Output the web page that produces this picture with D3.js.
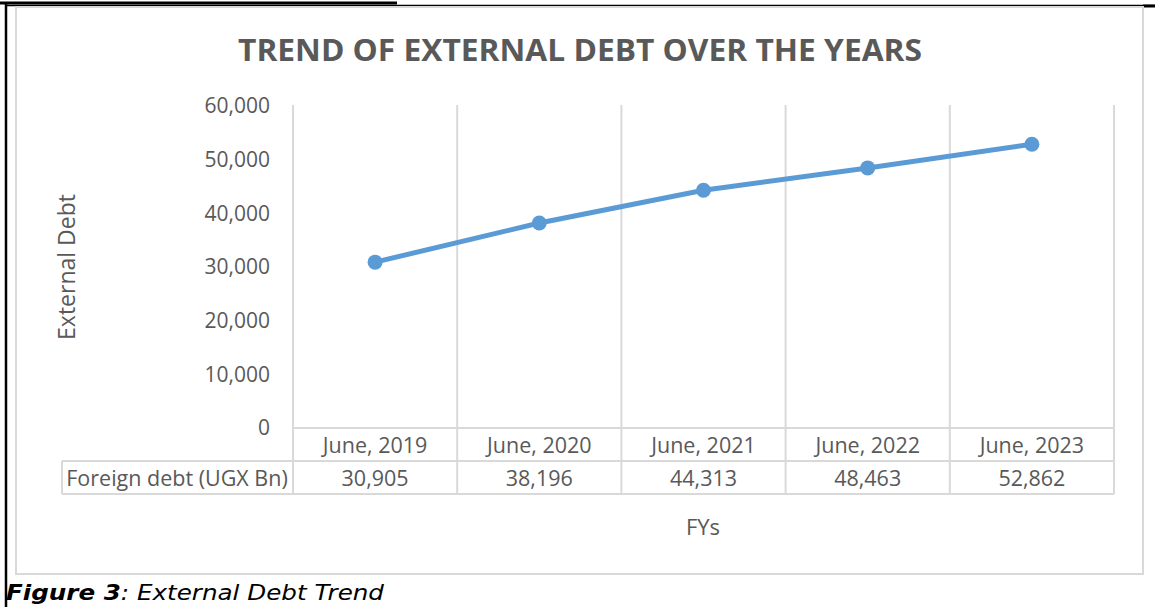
<!DOCTYPE html>
<html>
<head>
<meta charset="utf-8">
<script src="https://cdn.jsdelivr.net/npm/d3@7/dist/d3.min.js"></script>
<style>
  html, body { margin: 0; padding: 0; background: #ffffff; }
  svg { display: block; }
</style>
</head>
<body>
<svg id="chart" width="1155" height="607"></svg>
<script>
// Fiscal-year categories and foreign debt (UGX Bn)
const years = ["June, 2019", "June, 2020", "June, 2021", "June, 2022", "June, 2023"];
const debt = [30905, 38196, 44313, 48463, 52862];
const yTicks = [0, 10000, 20000, 30000, 40000, 50000, 60000];
const seriesName = "Foreign debt (UGX Bn)";

const svg = d3.select("#chart");
const grey = "#595959";
const gridColor = "#d9d9d9";
const lineColor = "#5b9bd5";
const font = "'Open Sans', 'Liberation Sans', sans-serif";

// Page frame lines
svg.append("line").attr("x1", 0).attr("x2", 397).attr("y1", 3).attr("y2", 3)
  .attr("stroke", "#000").attr("stroke-width", 3);
svg.append("line").attr("x1", 5).attr("x2", 1155).attr("y1", 5.5).attr("y2", 5.5)
  .attr("stroke", "#000").attr("stroke-width", 1.5);
svg.append("line").attr("x1", 1143).attr("x2", 1155).attr("y1", 6).attr("y2", 6)
  .attr("stroke", "#000").attr("stroke-width", 3);
svg.append("line").attr("x1", 6).attr("x2", 6).attr("y1", 4).attr("y2", 607)
  .attr("stroke", "#000").attr("stroke-width", 2.5);

// Chart area border
svg.append("rect").attr("x", 16).attr("y", 7).attr("width", 1127).attr("height", 567)
  .attr("fill", "#fff").attr("stroke", gridColor).attr("stroke-width", 2);

// Scales
const plotLeft = 293, plotRight = 1114, plotTop = 106, plotBottom = 428;
const x = d3.scaleBand().domain(years).range([plotLeft, plotRight]);
const y = d3.scaleLinear().domain([0, 60000]).range([plotBottom, plotTop]);
const rowH = 33;
const tableBottom = plotBottom + 2 * rowH;

// Title
svg.append("text")
  .attr("x", 580).attr("y", 61)
  .attr("text-anchor", "middle")
  .attr("font-family", font).attr("font-weight", 700)
  .attr("font-size", 30).attr("fill", grey)
  .attr("textLength", 684).attr("lengthAdjust", "spacingAndGlyphs")
  .text("TREND OF EXTERNAL DEBT OVER THE YEARS");

// Vertical category grid lines (run down through the data table)
const bounds = years.map(d => x(d)).concat([plotRight]);
svg.append("g").selectAll("line").data(bounds).join("line")
  .attr("x1", d => d).attr("x2", d => d)
  .attr("y1", plotTop - 1).attr("y2", tableBottom)
  .attr("stroke", gridColor).attr("stroke-width", 2);

// Horizontal table lines
svg.append("line").attr("x1", plotLeft).attr("x2", plotRight)
  .attr("y1", plotBottom).attr("y2", plotBottom)
  .attr("stroke", gridColor).attr("stroke-width", 2);
svg.append("line").attr("x1", 62).attr("x2", plotRight)
  .attr("y1", plotBottom + rowH).attr("y2", plotBottom + rowH)
  .attr("stroke", gridColor).attr("stroke-width", 2);
svg.append("line").attr("x1", 62).attr("x2", plotRight)
  .attr("y1", tableBottom).attr("y2", tableBottom)
  .attr("stroke", gridColor).attr("stroke-width", 2);
svg.append("line").attr("x1", 62).attr("x2", 62)
  .attr("y1", plotBottom + rowH).attr("y2", tableBottom)
  .attr("stroke", gridColor).attr("stroke-width", 2);

// Y axis tick labels
const fmt = d3.format(",");
svg.append("g").selectAll("text").data(yTicks).join("text")
  .attr("x", 270).attr("y", d => y(d))
  .attr("dy", "0.35em")
  .attr("text-anchor", "end")
  .attr("font-family", font).attr("font-size", 21).attr("fill", grey)
  .text(d => fmt(d));

// Category labels row
svg.append("g").selectAll("text").data(years).join("text")
  .attr("x", d => x(d) + x.bandwidth() / 2)
  .attr("y", plotBottom + rowH / 2 + 1)
  .attr("dy", "0.35em")
  .attr("text-anchor", "middle")
  .attr("font-family", font).attr("font-size", 21.5).attr("fill", grey)
  .text(d => d);

// Data value row
svg.append("text")
  .attr("x", 177).attr("y", plotBottom + rowH * 1.5 + 1)
  .attr("dy", "0.35em").attr("text-anchor", "middle")
  .attr("font-family", font).attr("font-size", 21.5).attr("fill", grey)
  .text(seriesName);
svg.append("g").selectAll("text").data(debt).join("text")
  .attr("x", (d, i) => x(years[i]) + x.bandwidth() / 2)
  .attr("y", plotBottom + rowH * 1.5 + 1)
  .attr("dy", "0.35em")
  .attr("text-anchor", "middle")
  .attr("font-family", font).attr("font-size", 21.5).attr("fill", grey)
  .text(d => fmt(d));

// Axis titles
svg.append("text")
  .attr("transform", "translate(75," + 267 + ") rotate(-90)")
  .attr("text-anchor", "middle")
  .attr("font-family", font).attr("font-size", 23).attr("fill", grey)
  .text("External Debt");
svg.append("text")
  .attr("x", 703).attr("y", 535)
  .attr("text-anchor", "middle")
  .attr("font-family", font).attr("font-size", 22).attr("fill", grey)
  .text("FYs");

// Debt line with markers
const pts = debt.map((v, i) => [x(years[i]) + x.bandwidth() / 2, y(v)]);
svg.append("path")
  .attr("d", d3.line()(pts))
  .attr("fill", "none").attr("stroke", lineColor)
  .attr("stroke-width", 5).attr("stroke-linecap", "round");
svg.append("g").selectAll("circle").data(pts).join("circle")
  .attr("cx", d => d[0]).attr("cy", d => d[1]).attr("r", 7.5)
  .attr("fill", lineColor);

// Figure caption
const cap = svg.append("text")
  .attr("x", 6).attr("y", 600)
  .attr("font-family", "'DejaVu Sans', Verdana, sans-serif")
  .attr("font-size", 22).attr("fill", "#000")
  .attr("font-style", "italic")
  .attr("textLength", 378).attr("lengthAdjust", "spacingAndGlyphs");
cap.append("tspan").attr("font-weight", 700).text("Figure 3");
cap.append("tspan").text(": External Debt Trend");
</script>
</body>
</html>
